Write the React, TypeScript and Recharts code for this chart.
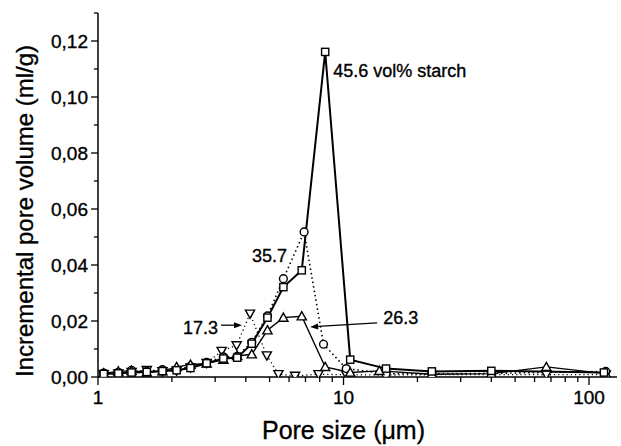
import React from "react";
import {
  ComposedChart,
  Line,
  XAxis,
  YAxis,
  ReferenceDot,
  ReferenceLine,
} from "recharts";

// pore size (µm) and incremental pore volume (ml/g) for each starch content
const x456 = [1.055, 1.21, 1.37, 1.58, 1.83, 2.09, 2.38, 2.77, 3.24, 3.69, 4.23, 4.9, 5.69, 6.76, 8.42, 10.65, 14.9, 22.9, 40, 115];
const y456 = [0.0011, 0.0013, 0.0016, 0.0018, 0.0021, 0.0024, 0.0032, 0.0049, 0.0066, 0.0069, 0.0119, 0.0212, 0.0321, 0.0381, 0.1161, 0.0062, 0.003, 0.002, 0.0022, 0.0016];

const x357 = [1.055, 1.21, 1.37, 1.58, 1.83, 2.09, 2.38, 2.77, 3.24, 3.69, 4.23, 4.9, 5.69, 6.91, 8.29, 10.26, 14.9, 22.9, 40, 117];
const y357 = [0.0014, 0.0017, 0.0024, 0.002, 0.0026, 0.0027, 0.0038, 0.0052, 0.0072, 0.0074, 0.0124, 0.0218, 0.0351, 0.0518, 0.0117, 0.003, 0.0012, 0.0011, 0.0013, 0.002];

const x263 = [1.055, 1.21, 1.37, 1.58, 1.83, 2.09, 2.38, 2.77, 3.24, 3.69, 4.23, 4.9, 5.69, 6.76, 8.42, 10.65, 14.0, 22.9, 40, 67, 117];
const y263 = [0.0013, 0.002, 0.0022, 0.0016, 0.0021, 0.0036, 0.0044, 0.0048, 0.0062, 0.0075, 0.0081, 0.0167, 0.0212, 0.0217, 0.0036, 0.0016, 0.0022, 0.001, 0.0012, 0.0036, 0.0012];

const x173 = [1.055, 1.21, 1.37, 1.58, 1.83, 2.09, 2.38, 2.77, 3.19, 3.67, 4.16, 4.87, 5.43, 6.35, 7.91, 10.26, 14.9, 22.9, 40, 67, 117];
const y173 = [0.001, 0.0012, 0.0018, 0.0025, 0.002, 0.0022, 0.0034, 0.005, 0.0093, 0.0113, 0.0226, 0.0077, 0.001, 0.0004, 0.001, 0.0008, 0.0007, 0.0008, 0.0009, 0.0008, 0.0009];

const xTicks = [1, 2, 3, 4, 5, 6, 7, 8, 9, 10, 20, 30, 40, 50, 60, 70, 80, 90, 100];
const xLabels = [1, 10, 100];
const yTicks = [0, 0.01, 0.02, 0.03, 0.04, 0.05, 0.06, 0.07, 0.08, 0.09, 0.1, 0.11, 0.12, 0.13];

const toPoints = (xs: number[], ys: number[]) => xs.map((x, i) => ({ x, y: ys[i] }));

const FONT = "'Liberation Sans', Arial, Helvetica, sans-serif";
// a thin outline makes the text a little heavier, like the printed figure
const ink = { fill: "#000", stroke: "#000", strokeWidth: 0.35, fontFamily: FONT };

function Square({ cx, cy }: any) {
  return <rect x={cx - 3.6} y={cy - 3.6} width={7.2} height={7.2} fill="#fff" stroke="#000" strokeWidth={1.4} />;
}

function Circle({ cx, cy }: any) {
  return <circle cx={cx} cy={cy} r={3.9} fill="#fff" stroke="#000" strokeWidth={1.4} />;
}

function TriUp({ cx, cy }: any) {
  return (
    <polygon
      points={`${cx},${cy - 4.6} ${cx + 4.6},${cy + 3.6} ${cx - 4.6},${cy + 3.6}`}
      fill="#fff"
      stroke="#000"
      strokeWidth={1.4}
    />
  );
}

function TriDown({ cx, cy }: any) {
  return (
    <polygon
      points={`${cx},${cy + 4.6} ${cx + 4.6},${cy - 3.6} ${cx - 4.6},${cy - 3.6}`}
      fill="#fff"
      stroke="#000"
      strokeWidth={1.4}
    />
  );
}

function YTick({ x, y, payload }: any) {
  const v = payload.value;
  const major = Math.round(v * 100) % 2 === 0 && v < 0.125;
  return (
    <g>
      <line x1={x - (major ? 7 : 4)} y1={y} x2={x} y2={y} stroke="#000" strokeWidth={1.3} />
      {major && (
        <text x={x - 10} y={y} dy="0.36em" textAnchor="end" fontSize={19} {...ink}>
          {v.toFixed(2).replace(".", ",")}
        </text>
      )}
    </g>
  );
}

function XTick({ x, y, payload }: any) {
  const major = xLabels.includes(payload.value);
  return (
    <g>
      <line x1={x} y1={y} x2={x} y2={y + (major ? 8 : 5)} stroke="#000" strokeWidth={1.3} />
      {major && (
        <text x={x} y={y + 27} textAnchor="middle" fontSize={19} {...ink}>
          {payload.value}
        </text>
      )}
    </g>
  );
}

function YTitle({ viewBox }: any) {
  const cx = viewBox.x + 24;
  const cy = viewBox.y + viewBox.height / 2 + 16;
  return (
    <text
      x={cx}
      y={cy}
      transform={`rotate(-90 ${cx} ${cy})`}
      textAnchor="middle"
      dominantBaseline="central"
      fontSize={24}
      {...ink}
    >
      Incremental pore volume (ml/g)
    </text>
  );
}

function XTitle({ viewBox }: any) {
  return (
    <text x={viewBox.x + viewBox.width / 2 - 14} y={viewBox.y + 62} textAnchor="middle" fontSize={25} {...ink}>
      {"Pore size (\u03bcm)"}
    </text>
  );
}

const note = (text: string, anchor: "start" | "end") => (p: any) => (
  <text x={p.cx} y={p.cy} dy="0.36em" textAnchor={anchor} fontSize={18} {...ink}>
    {text}
  </text>
);

// arrow drawn from (x1,y1) with the head at (x2,y2)
function Arrow(p: any) {
  const { x1, y1, x2, y2 } = p;
  const a = Math.atan2(y2 - y1, x2 - x1);
  const L = 8;
  const W = 3;
  const bx = x2 - L * Math.cos(a);
  const by = y2 - L * Math.sin(a);
  const nx = -Math.sin(a) * W;
  const ny = Math.cos(a) * W;
  return (
    <g>
      <line x1={x1} y1={y1} x2={bx} y2={by} stroke="#000" strokeWidth={1.3} />
      <polygon points={`${x2},${y2} ${bx + nx},${by + ny} ${bx - nx},${by - ny}`} fill="#000" />
    </g>
  );
}

export default function App() {
  return (
    <div style={{ position: "absolute", left: 0, top: 0, background: "#fff" }}>
      <ComposedChart width={621} height={446} margin={{ top: 13, right: 4, bottom: 0, left: 0 }}>
        <XAxis
          dataKey="x"
          type="number"
          scale="log"
          domain={[1, 130]}
          allowDataOverflow
          ticks={xTicks}
          interval={0}
          height={69}
          tickSize={0}
          tickMargin={0}
          tickLine={false}
          tick={<XTick />}
          axisLine={{ stroke: "#000", strokeWidth: 1.5 }}
          label={<XTitle />}
        />
        <YAxis
          dataKey="y"
          type="number"
          domain={[0, 0.13]}
          allowDataOverflow
          ticks={yTicks}
          interval={0}
          width={98}
          tickSize={0}
          tickMargin={0}
          tickLine={false}
          tick={<YTick />}
          axisLine={{ stroke: "#000", strokeWidth: 1.5 }}
          label={<YTitle />}
        />
        <Line
          data={toPoints(x173, y173)}
          dataKey="y"
          stroke="#000"
          strokeWidth={1.3}
          strokeDasharray="1.2 3"
          isAnimationActive={false}
          dot={(p: any) => <TriDown key={p.index} cx={p.cx} cy={p.cy} />}
        />
        <Line
          data={toPoints(x357, y357)}
          dataKey="y"
          stroke="#000"
          strokeWidth={1.6}
          strokeDasharray="1.5 3"
          isAnimationActive={false}
          dot={(p: any) => <Circle key={p.index} cx={p.cx} cy={p.cy} />}
        />
        <Line
          data={toPoints(x263, y263)}
          dataKey="y"
          stroke="#000"
          strokeWidth={1.4}
          isAnimationActive={false}
          dot={(p: any) => <TriUp key={p.index} cx={p.cx} cy={p.cy} />}
        />
        <Line
          data={toPoints(x456, y456)}
          dataKey="y"
          stroke="#000"
          strokeWidth={2}
          isAnimationActive={false}
          dot={(p: any) => <Square key={p.index} cx={p.cx} cy={p.cy} />}
        />
        <ReferenceDot x={9.08} y={0.1095} r={0} shape={note("45.6 vol% starch", "start")} />
        <ReferenceDot x={5.89} y={0.0435} r={0} shape={note("35.7", "end")} />
        <ReferenceDot x={3.08} y={0.0178} r={0} shape={note("17.3", "end")} />
        <ReferenceDot x={14.5} y={0.0214} r={0} shape={note("26.3", "start")} />
        <ReferenceLine segment={[{ x: 3.17, y: 0.0185 }, { x: 3.86, y: 0.0185 }]} shape={Arrow} />
        <ReferenceLine segment={[{ x: 13.7, y: 0.0193 }, { x: 7.31, y: 0.0179 }]} shape={Arrow} />
      </ComposedChart>
    </div>
  );
}
